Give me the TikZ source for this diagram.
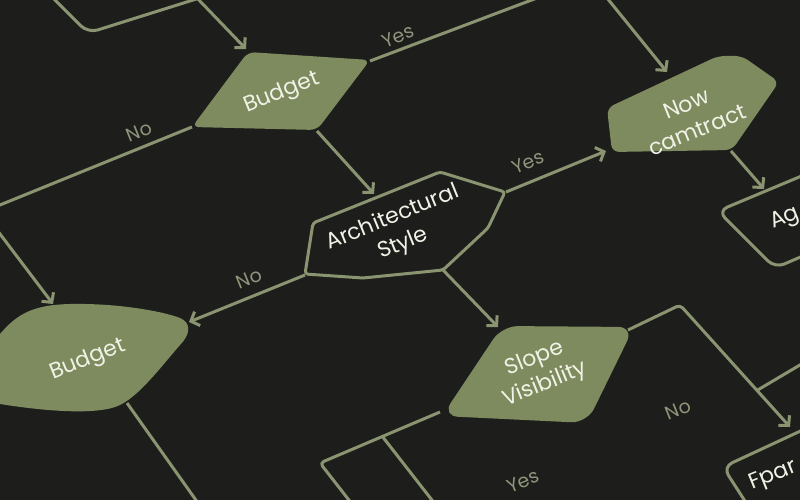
\documentclass[tikz,border=0pt]{standalone}
\usepackage{fontspec}
\setmainfont{Poppins}
\usetikzlibrary{arrows.meta,
	calc,
	positioning}
\definecolor{bgdark}{HTML}{1D1E1C}
\definecolor{olive}{HTML}{7E8B5F}
\definecolor{wire}{HTML}{8A9471}
\definecolor{txt}{HTML}{F1F2E6}
\definecolor{lbl}{HTML}{8E957A}
\tikzstyle{dec}=[fill=olive, rounded corners=7pt]
\tikzstyle{hole}=[draw=wire, fill=bgdark, line width=3pt, rounded corners=3pt, line join=round]
\tikzstyle{wr}=[draw=wire, line width=3pt, rounded corners=4pt, line join=round]
\tikzstyle{ar}=[wr, -{Straight Barb[length=7pt,width=15pt,line width=3pt]}]
\tikzstyle{tx}=[text=txt, font=\fontsize{22}{28}\selectfont, align=center, rotate=22, inner sep=0]
\tikzstyle{yn}=[text=lbl, font=\fontsize{19}{22}\selectfont, rotate=22, inner sep=0]

\begin{document}
\begin{tikzpicture}[x=1pt, y=-1pt]
	\useasboundingbox (0,0) rectangle (800,500);
	\fill[bgdark] (0,0) rectangle (800,500);
	\clip (0,0) rectangle (800,500);

	% shapes
	\fill[dec] (248,52) -- (370,60) -- (317,130) -- (192,127) -- cycle;
	\fill[dec] (607,108) -- (718,56) -- (742,56) -- (779,82) -- (732,150) -- (612,152) -- cycle;
	\draw[hole] (313,223) -- (440,172) -- (505,192) -- (488,228) -- (443,270) -- (363,278) -- (305,274) -- cycle;
	\fill[olive] (-5,340) .. controls (15,315) and (30,305) .. (70,304)
		.. controls (120,303) and (165,312) .. (180,318)
		.. controls (192,323) and (190,335) .. (180,345)
		.. controls (160,368) and (140,395) .. (120,405)
		.. controls (100,415) and (50,412) .. (0,404) -- (-5,404) -- cycle;
	\fill[dec, rounded corners=16pt] (502,326) -- (634,327) -- (587,423) -- (442,416) -- cycle;
	\draw[wr, rounded corners=10pt] (45,-10) -- (88,33) -- (225,-10);
	\draw[wr, rounded corners=10pt] (835,162) -- (718,211) -- (775,268) -- (840,240);
	\draw[wr, rounded corners=10pt] (835,415) -- (723,467) -- (752,512);

	% texts
	\node[tx] (budA-t) at (282,93) {Budget};
	\node[tx] (arch-t) at (398,231) {Architectural\\Style};
	\node[tx] (now-t) at (692,117) {Now\\camtract};
	\node[tx] (budB-t) at (88,360) {Budget};
	\node[tx] (slope-t) at (540,372) {Slope\\Visibility};
	\node[tx, anchor=base west] (ag-t) at (773,229) {Ag};
	\node[tx, anchor=base west] (fpar-t) at (752,490) {Fpar};

	% anchors
	\coordinate (tlbox) at (197,-2);
	\coordinate (budA-n) at (246,49);
	\coordinate (budA-e) at (370,61);
	\coordinate (budA-w) at (192,127);
	\coordinate (budA-s) at (317,131);
	\coordinate (yesA) at (545,-5);
	\coordinate (noA) at (-5,207);
	\coordinate (arch-n) at (374,194);
	\coordinate (arch-e) at (506,192);
	\coordinate (arch-w) at (305,275);
	\coordinate (arch-s) at (443,270);
	\coordinate (topR) at (607,-2);
	\coordinate (now-n) at (667,72);
	\coordinate (now-w) at (606,151);
	\coordinate (now-s) at (731,151);
	\coordinate (ag-n) at (764,189);
	\coordinate (leftIn) at (-3,230);
	\coordinate (budB-n) at (53,304);
	\coordinate (budB-e) at (189,322);
	\coordinate (budB-s) at (127,403);
	\coordinate (budB-out) at (198,503);
	\coordinate (slope-n) at (498,327);
	\coordinate (slope-ne) at (628,330);
	\coordinate (slope-sw) at (440,412);
	\coordinate (bendA) at (680,305);
	\coordinate (fpar-n) at (790,427);
	\coordinate (brAend) at (805,362);
	\coordinate (bendB) at (320,463);
	\coordinate (bendBout) at (352,504);
	\coordinate (brBend) at (435,504);

	% connectors
	\draw[ar] (tlbox) -- (budA-n);
	\draw[wr] (budA-e) -- (yesA);
	\draw[wr] (budA-w) -- (noA);
	\draw[ar] (budA-s) -- (arch-n);
	\draw[ar] (arch-e) -- (now-w);
	\draw[ar] (arch-w) -- (budB-e);
	\draw[ar] (arch-s) -- (slope-n);
	\draw[ar] (topR) -- (now-n);
	\draw[ar] (now-s) -- (ag-n);
	\draw[ar] (leftIn) -- (budB-n);
	\draw[wr] (budB-s) -- (budB-out);
	\draw[ar] (slope-ne) -- (bendA) -- (fpar-n);
	\draw[wr] ($(bendA)!0.7!(fpar-n)$) -- (brAend);
	\draw[wr] (slope-sw) -- (bendB) -- (bendBout);
	\draw[wr] ($(slope-sw)!0.48!(bendB)$) -- (brBend);

	% yes / no
	\node[yn] (yesA-l) at (398,36) {Yes};
	\node[yn] (noA-l) at (139,132) {No};
	\node[yn] (yesB-l) at (528,162) {Yes};
	\node[yn] (noB-l) at (249,279) {No};
	\node[yn] (noC-l) at (678,410) {No};
	\node[yn] (yesC-l) at (523,481) {Yes};
\end{tikzpicture}
\end{document}
